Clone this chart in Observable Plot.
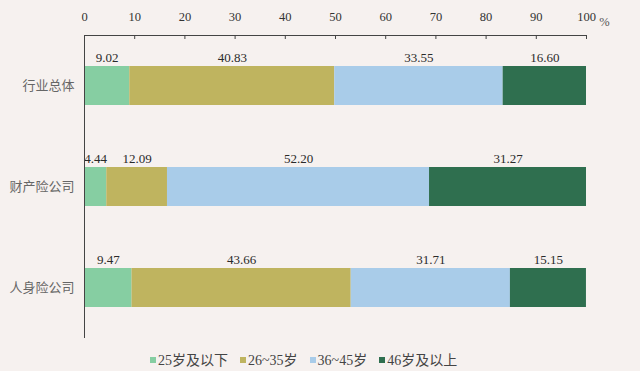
<!DOCTYPE html>
<html>
<head>
<meta charset="utf-8">
<script src="https://cdn.jsdelivr.net/npm/d3@7"></script>
<script src="https://cdn.jsdelivr.net/npm/@observablehq/plot@0.6"></script>
<style>
  body { margin: 0; background: #f6f1ef; width: 640px; height: 371px; overflow: hidden;
         font-family: "Liberation Serif", "Noto Sans CJK SC", serif; }
  #legend { display: flex; gap: 12px; padding-left: 150px; height: 25px; align-items: center;
            font-size: 14px; color: #444; }
  #legend .item { display: flex; align-items: center; }
  #legend .sw { width: 6px; height: 6px; margin-right: 2px; margin-top: 3px; }
</style>
</head>
<body>
<div id="chart"></div>
<div id="legend"></div>
<script>
// Age structure of insurance staff, share of each age group (%)
const companies = ["行业总体", "财产险公司", "人身险公司"];
const ageGroups = ["25岁及以下", "26~35岁", "36~45岁", "46岁及以上"];
const groupColors = ["#86cea2", "#bfb45f", "#a9cce9", "#2f6f4f"];
const industryShares = [9.02, 40.83, 33.55, 16.60];
const propertyShares = [4.44, 12.09, 52.20, 31.27];
const lifeShares = [9.47, 43.66, 31.71, 15.15];
const xTicks = [0, 10, 20, 30, 40, 50, 60, 70, 80, 90, 100];

const shareSets = [industryShares, propertyShares, lifeShares];
const rows = companies.flatMap((company, i) =>
  ageGroups.map((age, j) => ({company, age, value: shareSets[i][j]}))
);

const serif = "'Liberation Serif', 'Noto Sans CJK SC', serif";
const cjk = "'Noto Sans CJK SC', sans-serif";
const lineColor = "#444";

const chart = Plot.plot({
  width: 640,
  height: 346,
  marginTop: 35,
  marginLeft: 84,
  marginRight: 54,
  marginBottom: 8,
  style: {background: "transparent", fontFamily: serif, color: "#333"},
  x: {domain: [0, 100], label: null},
  y: {domain: companies, paddingInner: 0.614, paddingOuter: 0.307, label: null},
  color: {domain: ageGroups, range: groupColors},
  marks: [
    Plot.barX(rows, {x: "value", y: "company", fill: "age"}),
    Plot.text(rows, Plot.stackX({
      x: "value", y: "company", z: "age",
      text: d => d.value.toFixed(2),
      dy: -28, fontSize: 13, fill: "#2a2a2a"
    })),
    // left baseline and top axis line
    Plot.ruleX([0], {stroke: lineColor, strokeWidth: 1}),
    Plot.rect([0], {x1: () => 0, x2: () => 100, insetBottom: 302, fill: lineColor}),
    Plot.axisX(xTicks, {
      anchor: "top", tickSize: 0, tickPadding: 15,
      fontSize: 12.5, fill: "#333", label: null
    }),
    // short inward tick marks below the top axis line
    Plot.ruleX(xTicks, {stroke: lineColor, strokeWidth: 1, insetBottom: 299}),
    Plot.text(["%"], {x: () => 100, text: d => d, frameAnchor: "top", dy: -18, dx: 18,
      fontSize: 12.5, fill: "#555"}),
    Plot.axisY({
      anchor: "left", tickSize: 0, tickPadding: 10,
      fontSize: 13, fontFamily: cjk, fill: "#666", label: null
    })
  ]
});
document.getElementById("chart").append(chart);

// Legend below the chart
const legend = document.getElementById("legend");
ageGroups.forEach((g, i) => {
  const item = document.createElement("div");
  item.className = "item";
  const sw = document.createElement("span");
  sw.className = "sw";
  sw.style.background = groupColors[i];
  const label = document.createElement("span");
  label.textContent = g;
  item.append(sw, label);
  legend.append(item);
});
</script>
</body>
</html>
